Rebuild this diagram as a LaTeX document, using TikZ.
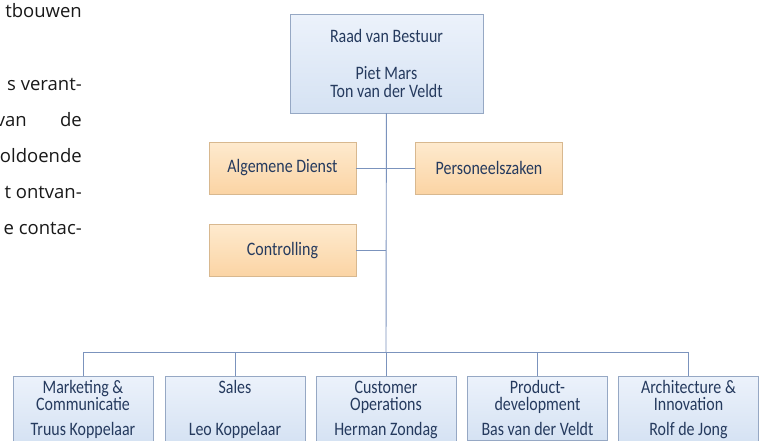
\documentclass[tikz,border=0pt]{standalone}
\usepackage{fontspec}
\setmainfont{Open Sans}
\newfontfamily\orgfont[FakeStretch=0.84]{Carlito}
\definecolor{orgtext}{RGB}{37,58,94}
\definecolor{connline}{RGB}{123,147,189}
\definecolor{blueedge}{RGB}{150,168,196}
\definecolor{bluetop}{RGB}{236,242,251}
\definecolor{bluebot}{RGB}{213,226,243}
\definecolor{orangeedge}{RGB}{216,184,143}
\definecolor{orangetop}{RGB}{254,234,206}
\definecolor{orangebot}{RGB}{251,212,164}
\newcommand{\deptstrut}{\rule{0pt}{13pt}}
\newcommand{\orgtextfont}{\orgfont\fontsize{19}{17.5}\selectfont\lineskiplimit=-20pt\relax}

\begin{document}
\begin{tikzpicture}[x=1pt, y=-1pt,
    bluebox/.style={draw=blueedge, top color=bluetop, bottom color=bluebot, text=orgtext, align=center, inner xsep=0pt, font=\orgtextfont},
    orangebox/.style={draw=orangeedge, top color=orangetop, bottom color=orangebot, text=orgtext, align=center, minimum width=147pt, minimum height=52pt, font=\orgtextfont},
    deptbox/.style={bluebox, anchor=north, minimum width=140pt, inner ysep=4pt},
    conn/.style={draw=connline, line width=0.9pt},
    bodytext/.style={anchor=base east, inner sep=0pt, text=black!90, font=\fontsize{18.5}{22}\selectfont}]
        \useasboundingbox (0,0) rectangle (765,440);
        \clip (0,0) rectangle (765,440);
        \fill[white] (0,0) rectangle (765,440);

        % Text beside the chart
        \node[bodytext] (t1) at (82,17) {tbouwen};
        \node[bodytext] (t2) at (82,90) {s verant-};
        \node[bodytext] (t3a) at (27,126) {van};
        \node[bodytext] (t3b) at (82,126) {de};
        \node[bodytext] (t4) at (82,162) {oldoende};
        \node[bodytext] (t5) at (82,198) {t ontvan-};
        \node[bodytext] (t6) at (82,234) {e contac-};

        % Nodes
        \node[bluebox, minimum width=193pt, minimum height=99pt] (raad) at (386.5,63.5) {Raad van Bestuur\\[19.5pt]Piet Mars\\[0.5pt]Ton van der Veldt};
        \node[orangebox] (alg) at (282.5,168) {Algemene Dienst};
        \node[orangebox] (pers) at (489,168) {Personeelszaken};
        \node[orangebox] (ctrl) at (282.5,250.5) {Controlling};
        \coordinate (bus) at (386,352);

        \node[deptbox] (mark) at (83,376) {\deptstrut Marketing \&\\Communicatie\\[7.5pt]Truus Koppelaar};
        \node[deptbox] (sales) at (235,376) {\deptstrut Sales\\\mbox{}\\[7.5pt]Leo Koppelaar};
        \node[deptbox] (cust) at (386,376) {\deptstrut Customer\\Operations\\[7.5pt]Herman Zondag};
        \node[deptbox] (prod) at (537.5,376) {\deptstrut Product-\\development\\[7.5pt]Bas van der Veldt};
        \node[deptbox] (arch) at (688.5,376) {\deptstrut Architecture \&\\Innovation\\[7.5pt]Rolf de Jong};

        % Edges
        \draw[conn] (raad) -- (bus);
        \draw[conn] (alg) -- (pers);
        \draw[conn] (ctrl.east) -- (ctrl.east -| bus);
        \draw[conn] (bus) -| (mark);
        \draw[conn] (bus) -| (sales);
        \draw[conn] (bus) -- (cust);
        \draw[conn] (bus) -| (prod);
        \draw[conn] (bus) -| (arch);
    \end{tikzpicture}
\end{document}
